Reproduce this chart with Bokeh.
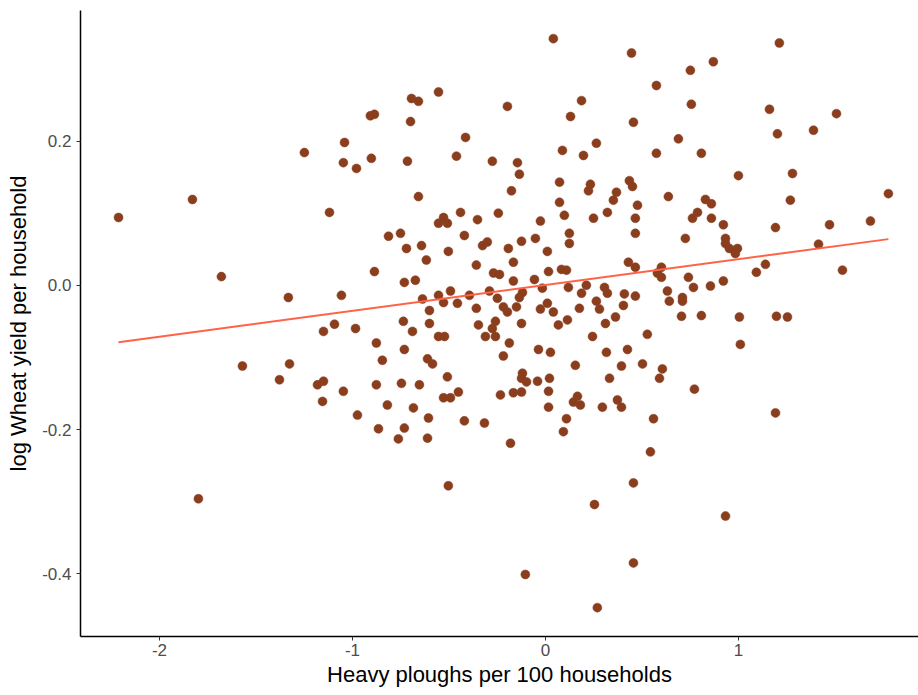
from bokeh.plotting import figure
from bokeh.models import FixedTicker, PrintfTickFormatter, ColumnDataSource
from bokeh.embed import file_html
from bokeh.resources import INLINE

# Heavy ploughs per 100 households (x) vs log wheat yield per household (y)
ploughs = [
    -2.212, -1.829, -1.679, -1.332, -1.570, -1.326, -1.378, -1.798, -1.249, -1.041,
    -1.047, -0.979, -0.902, -0.907, -0.886, -0.694, -0.658, -0.554, -0.699, -0.715,
    -0.414, -0.461, -0.275, -0.658, -1.119, -0.440, -0.244, 0.041, 0.446, 0.751,
    0.870, 0.575, 0.756, -0.197, 0.187, 0.130, 0.456, 0.689, 0.264, 0.088,
    0.197, 0.575, 0.808, -0.145, -0.135, -0.176, 0.073, 0.073, 0.233, 0.223,
    0.368, 0.352, 0.435, 0.451, 0.477, 0.637, 0.829, 0.860, 0.788, 0.321,
    0.098, 1.212, 1.161, 1.508, 1.202, 1.389, 1.000, 1.280, 1.269, 1.777,
    -0.554, -0.528, -0.508, -0.352, -0.813, -0.751, -0.720, -0.642, -0.617, -0.503,
    -0.420, -0.326, -0.301, -0.358, -0.886, -0.731, -0.674, -0.269, -0.238, -1.057,
    -0.637, -0.554, -0.492, -0.528, -0.456, -0.394, -0.290, -0.249, -0.218, -0.358,
    -0.601, -1.150, -1.093, -0.984, -0.736, -0.689, -0.601, -0.347, -0.259, -0.275,
    -0.554, -0.523, -0.311, -0.259, -0.876, -0.731, -0.845, -0.611, -0.585, -0.218,
    -0.508, -1.181, -1.150, -1.047, -0.876, -0.746, -0.653, -0.451, -0.528, -0.492,
    -0.233, -1.155, -0.819, -0.684, -0.974, -0.606, -0.420, -0.316, -0.026, 0.249,
    0.466, 0.466, 0.762, 0.860, 0.725, 0.124, 0.124, -0.052, -0.124, -0.192,
    0.010, -0.166, 0.016, 0.083, 0.109, 0.430, 0.466, 0.601, 0.580, 0.601,
    -0.166, -0.057, -0.016, 0.119, 0.212, 0.306, 0.321, 0.187, -0.119, -0.135,
    0.409, 0.466, 0.741, 0.767, 0.855, 0.632, 0.642, 0.710, 0.710, -0.197,
    -0.150, -0.026, 0.010, 0.041, 0.176, 0.264, 0.280, 0.404, 0.363, 0.311,
    0.114, 0.067, -0.124, 0.705, 0.808, 0.244, 0.528, -0.187, -0.036, 0.026,
    0.316, 0.425, 0.155, 0.394, 0.503, 0.606, 0.591, -0.119, -0.124, -0.098,
    -0.041, 0.021, 0.332, 0.016, -0.166, -0.124, 0.772, 0.166, 0.145, 0.181,
    0.016, 0.295, 0.373, 0.394, 0.109, 0.560, 0.922, 1.192, 1.472, 1.684,
    0.933, 0.933, 0.953, 0.995, 0.984, 1.415, 1.140, 1.093, 1.539, 0.922,
    1.005, 1.197, 1.254, 1.010, 1.192, -0.865, -0.731, -0.762, -0.611, -0.503,
    0.093, -0.181, 0.544, 0.456, 0.254, 0.456, -0.104, 0.269, 0.933,
]
log_yield = [
    0.094, 0.119, 0.012, -0.017, -0.112, -0.109, -0.131, -0.296, 0.184, 0.198,
    0.170, 0.162, 0.176, 0.235, 0.237, 0.259, 0.255, 0.268, 0.227, 0.172,
    0.205, 0.179, 0.172, 0.123, 0.101, 0.101, 0.100, 0.342, 0.322, 0.298,
    0.310, 0.277, 0.251, 0.248, 0.256, 0.234, 0.226, 0.203, 0.197, 0.187,
    0.180, 0.183, 0.183, 0.170, 0.154, 0.131, 0.143, 0.115, 0.140, 0.131,
    0.129, 0.118, 0.145, 0.137, 0.111, 0.123, 0.119, 0.113, 0.101, 0.101,
    0.097, 0.336, 0.244, 0.238, 0.210, 0.215, 0.152, 0.155, 0.118, 0.127,
    0.086, 0.094, 0.086, 0.091, 0.068, 0.072, 0.051, 0.055, 0.035, 0.047,
    0.069, 0.055, 0.060, 0.028, 0.019, 0.004, 0.007, 0.017, 0.015, -0.014,
    -0.019, -0.014, -0.008, -0.024, -0.025, -0.014, -0.008, -0.018, -0.030, -0.032,
    -0.035, -0.064, -0.054, -0.060, -0.050, -0.064, -0.053, -0.055, -0.050, -0.060,
    -0.071, -0.071, -0.071, -0.071, -0.080, -0.089, -0.104, -0.102, -0.109, -0.098,
    -0.127, -0.138, -0.133, -0.147, -0.138, -0.136, -0.138, -0.148, -0.156, -0.156,
    -0.152, -0.161, -0.166, -0.170, -0.180, -0.184, -0.188, -0.191, 0.089, 0.093,
    0.093, 0.072, 0.093, 0.093, 0.065, 0.072, 0.058, 0.065, 0.061, 0.051,
    0.047, 0.032, 0.019, 0.022, 0.021, 0.032, 0.025, 0.025, 0.017, 0.011,
    0.006, 0.008, -0.004, -0.003, 0.000, -0.003, -0.011, -0.011, -0.010, -0.017,
    -0.012, -0.015, 0.011, -0.003, -0.001, -0.008, -0.022, -0.017, -0.022, -0.037,
    -0.030, -0.033, -0.025, -0.037, -0.032, -0.022, -0.033, -0.028, -0.044, -0.053,
    -0.048, -0.055, -0.053, -0.043, -0.042, -0.071, -0.068, -0.080, -0.089, -0.093,
    -0.093, -0.089, -0.111, -0.112, -0.109, -0.116, -0.129, -0.122, -0.129, -0.134,
    -0.133, -0.129, -0.129, -0.147, -0.149, -0.148, -0.144, -0.154, -0.162, -0.166,
    -0.169, -0.169, -0.159, -0.169, -0.185, -0.185, 0.084, 0.080, 0.084, 0.089,
    0.065, 0.058, 0.051, 0.051, 0.044, 0.057, 0.029, 0.018, 0.021, 0.006,
    -0.044, -0.043, -0.044, -0.082, -0.177, -0.199, -0.198, -0.213, -0.212, -0.278,
    -0.203, -0.219, -0.231, -0.274, -0.304, -0.385, -0.401, -0.447, -0.320,
]

# Fitted linear trend (at the data extremes)
fit_x = [-2.212, 1.777]
fit_y = [-0.079, 0.064]

x_ticks = [-2, -1, 0, 1]
y_ticks = [-0.4, -0.2, 0.0, 0.2]

p = figure(
    width=918, height=695,
    x_range=(-2.409, 1.933), y_range=(-0.487, 0.381),
    output_backend="svg", toolbar_location=None,
    min_border_left=80, min_border_right=0,
    min_border_top=10, min_border_bottom=59,
)
p.outline_line_color = None
p.xgrid.grid_line_color = None
p.ygrid.grid_line_color = None
p.background_fill_color = "white"
p.border_fill_color = "white"

src = ColumnDataSource(dict(x=ploughs, y=log_yield))
p.scatter("x", "y", source=src, size=9, fill_color="#8B3E1E",
          line_color="#8B3E1E", line_width=0.5)
p.line(fit_x, fit_y, line_color="#FF6347", line_width=2)

for ax, ticks, fmt in ((p.xaxis[0], x_ticks, "%d"), (p.yaxis[0], y_ticks, "%.1f")):
    ax.ticker = FixedTicker(ticks=ticks)
    ax.formatter = PrintfTickFormatter(format=fmt)
    ax.minor_tick_line_color = None
    ax.major_tick_in = 0
    ax.major_tick_out = 4
    ax.major_tick_line_color = "#333333"
    ax.axis_line_color = "black"
    ax.axis_line_width = 1.5
    ax.major_label_text_font = "Liberation Sans"
    ax.major_label_text_font_size = "17px"
    ax.major_label_text_color = "#4D4D4D"
    ax.axis_label_text_font = "Liberation Sans"
    ax.axis_label_text_font_size = "22px"
    ax.axis_label_text_font_style = "normal"
    ax.axis_label_text_color = "black"

p.xaxis.axis_label = "Heavy ploughs per 100 households"
p.yaxis.axis_label = "log Wheat yield per household"
p.xaxis.major_label_standoff = 3
p.yaxis.major_label_standoff = 5
p.xaxis.axis_label_standoff = 3
p.yaxis.axis_label_standoff = 8

open("out.html", "w").write(file_html(p, INLINE))
